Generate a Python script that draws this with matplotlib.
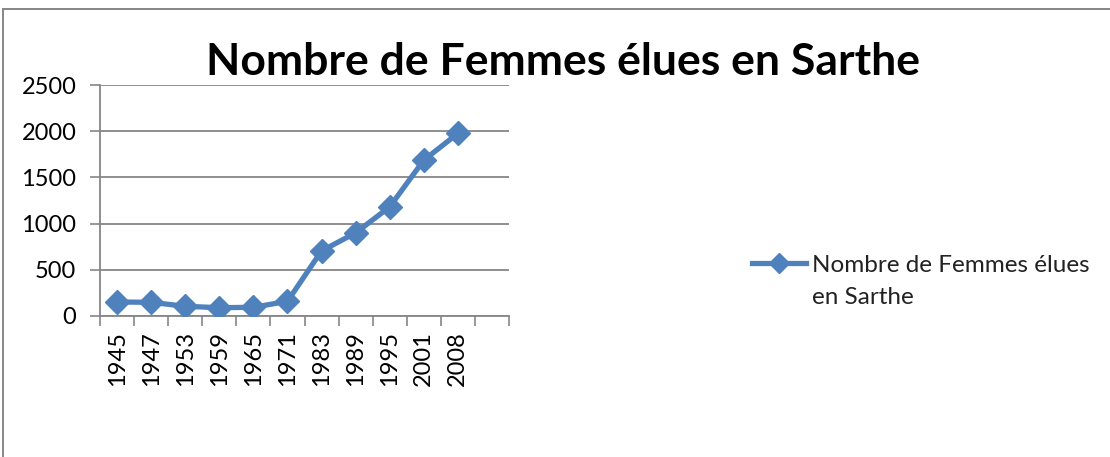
import matplotlib
matplotlib.use("Agg")
import matplotlib.pyplot as plt
from matplotlib.lines import Line2D

years = ["1945", "1947", "1953", "1959", "1965", "1971",
         "1983", "1989", "1995", "2001", "2008"]
femmes = [152, 148, 105, 90, 94, 159, 704, 900, 1181, 1687, 1976]
yticks = [0, 500, 1000, 1500, 2000, 2500]
titre = "Nombre de Femmes élues en Sarthe"
legende = ["Nombre de Femmes élues", "en Sarthe"]

blue = "#4F81BD"
grid = "#868686"
W, H = 1110, 457

fig = plt.figure(figsize=(W / 100, H / 100), dpi=100)
ax = fig.add_axes([100 / W, 1 - 316 / H, 409 / W, 231 / H])

# outer chart frame (only top/left visible in the reference)
fig.add_artist(Line2D([3 / W, 3 / W], [0, 1 - 9 / H], transform=fig.transFigure,
                      color=grid, lw=1.4))
fig.add_artist(Line2D([3 / W, 1.0], [1 - 9 / H, 1 - 9 / H], transform=fig.transFigure,
                      color=grid, lw=1.4))

x = [i + 0.5 for i in range(len(years))]
ax.plot(x, femmes, color=blue, lw=3.8, marker="D", ms=12,
        markerfacecolor=blue, markeredgecolor=blue, zorder=3)

ax.set_xlim(0, 12)
ax.set_ylim(0, 2500)
ax.set_yticks(yticks)
ax.set_yticklabels([str(v) for v in yticks], family="Lato", fontsize=17)
ax.set_xticks(range(13))
ax.set_xticklabels([])
ax.set_xticks(x, minor=True)
ax.set_xticklabels(years, minor=True, rotation=90, family="Lato",
                   fontsize=17)
ax.tick_params(axis="x", which="major", length=7, width=1.2, color=grid,
               direction="out")
ax.tick_params(axis="x", which="minor", length=0, pad=11)
ax.tick_params(axis="y", length=7, width=1.2, color=grid, pad=10)

ax.grid(axis="y", color=grid, lw=1.3)
ax.set_axisbelow(True)
for s in ["top", "right"]:
    ax.spines[s].set_visible(False)
for s in ["left", "bottom"]:
    ax.spines[s].set_color(grid)
    ax.spines[s].set_linewidth(1.3)

fig.text(563 / W, 1 - 62 / H, titre, ha="center", va="center",
         family="Lato", fontweight="bold", fontsize=32)

# legend drawn by hand to match the Excel layout
fig.add_artist(Line2D([752 / W, 806 / W], [1 - 263 / H, 1 - 263 / H],
                      transform=fig.transFigure, color=blue, lw=3.8))
fig.add_artist(Line2D([779 / W], [1 - 263 / H], transform=fig.transFigure,
                      color=blue, marker="D", ms=10, lw=0))
fig.text(812 / W, 1 - 272 / H, legende[0], ha="left", va="baseline",
         family="Lato", fontsize=17.5, color="#222222")
fig.text(812 / W, 1 - 304 / H, legende[1], ha="left", va="baseline",
         family="Lato", fontsize=17.5, color="#222222")

fig.savefig("out.png", dpi=100)
